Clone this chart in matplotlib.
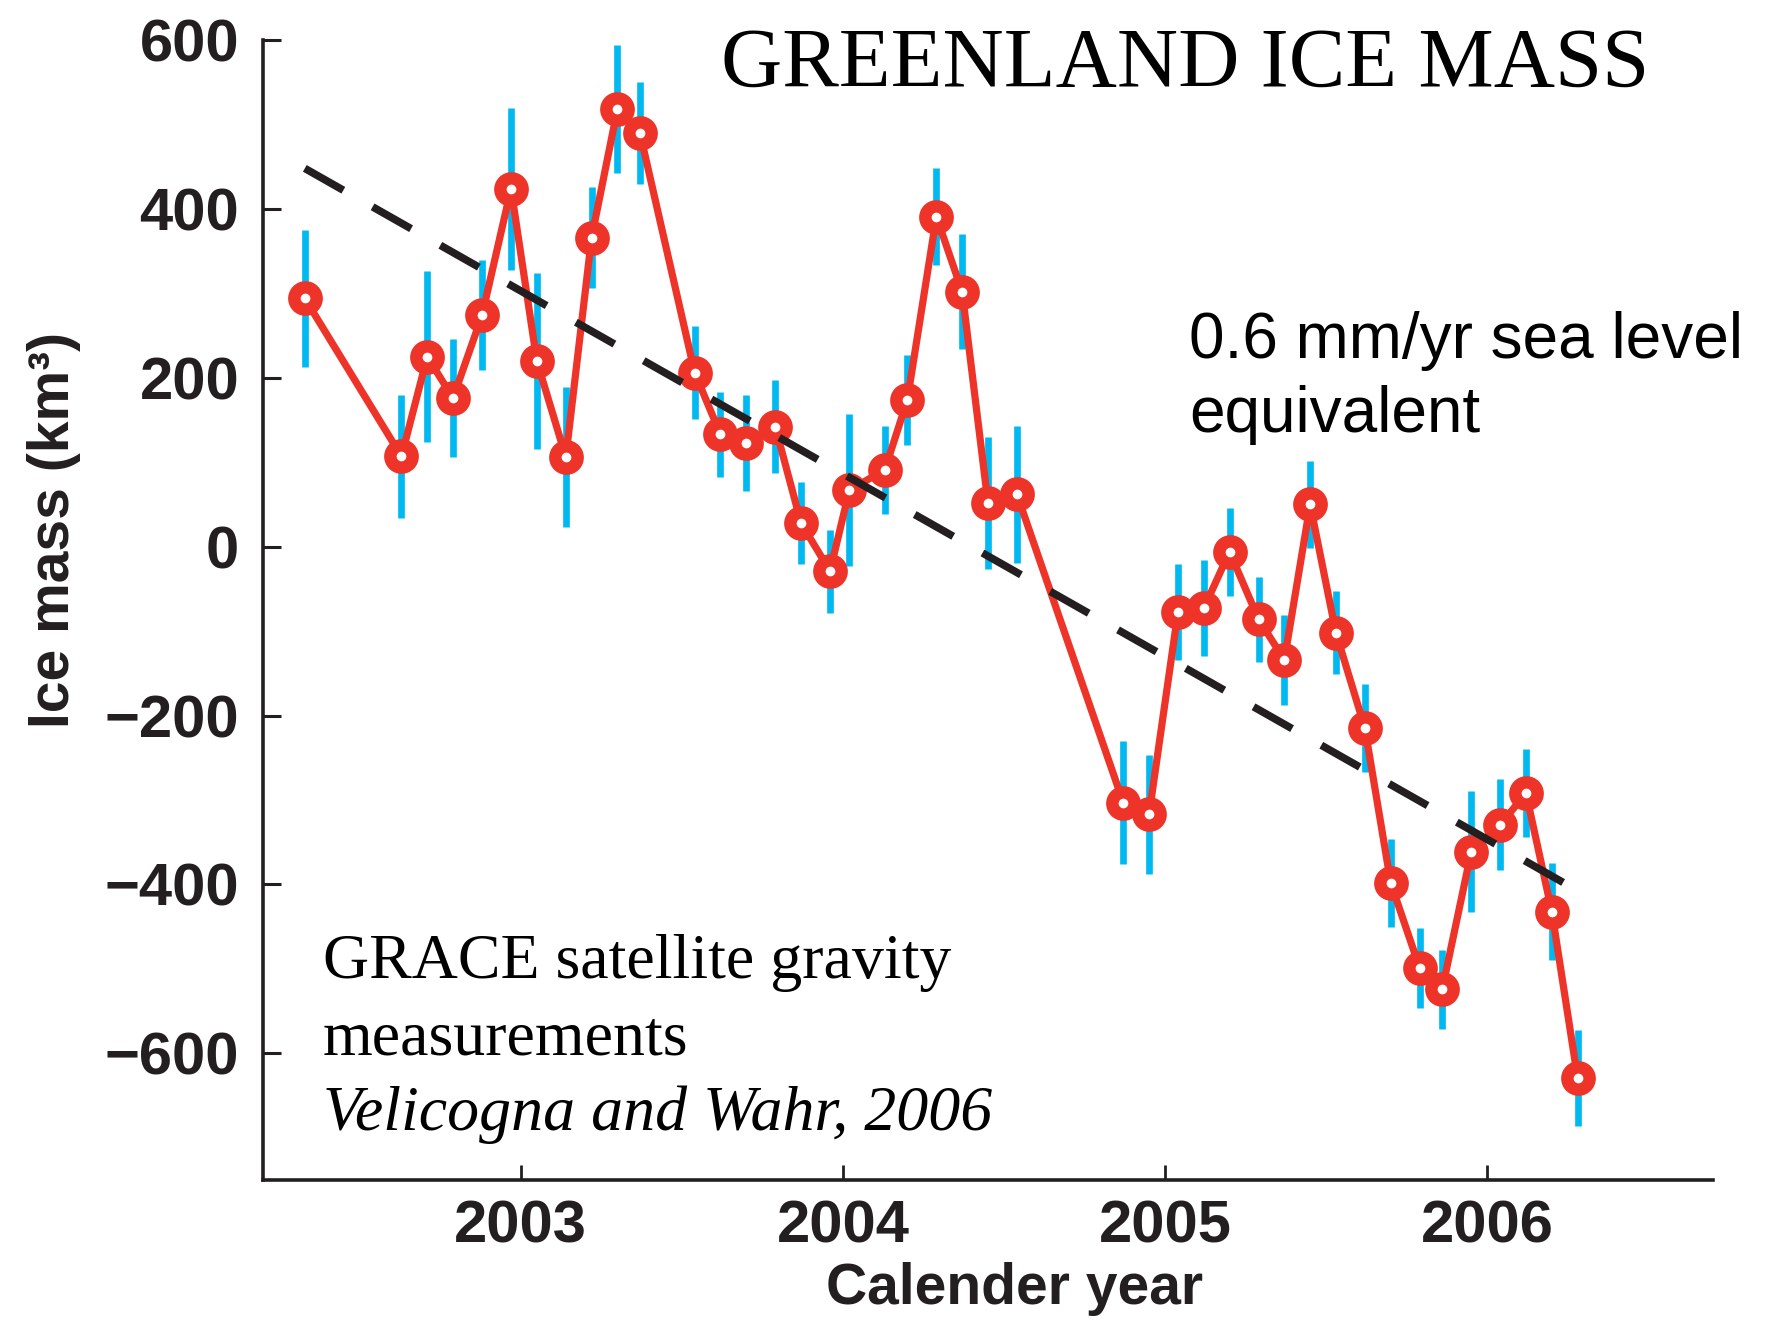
import matplotlib
matplotlib.use("Agg")
import matplotlib.pyplot as plt

# Monthly GRACE ice-mass estimates for Greenland (km^3) with 1-sigma uncertainty
decimal_year = [2002.33, 2002.63, 2002.71, 2002.79, 2002.88, 2002.97, 2003.05, 2003.14,
                2003.22, 2003.30, 2003.37,
                2003.54, 2003.62, 2003.70, 2003.79, 2003.87, 2003.96, 2004.02, 2004.13,
                2004.20, 2004.29, 2004.37, 2004.45, 2004.54,
                2004.87, 2004.95, 2005.04, 2005.12, 2005.20, 2005.29, 2005.37, 2005.45,
                2005.53, 2005.62,
                2005.70, 2005.79, 2005.86, 2005.95, 2006.04, 2006.12, 2006.20, 2006.28]
ice_mass = [294, 107, 225, 176, 274, 424, 220, 106, 366, 518, 490,
            206, 133, 123, 142, 28, -29, 67, 91, 174, 391, 302, 52, 62,
            -303, -317, -77, -73, -6, -86, -134, 50, -102, -215,
            -398, -499, -524, -361, -329, -292, -432, -629]
uncertainty = [81, 73, 101, 70, 65, 96, 104, 83, 60, 76, 60,
               55, 50, 57, 55, 49, 49, 90, 52, 53, 58, 68, 78, 81,
               73, 70, 57, 57, 52, 50, 53, 52, 49, 52,
               52, 47, 47, 72, 54, 52, 57, 57]

# Linear trend endpoints
trend_years = [2002.33, 2006.26]
trend_mass = [448, -403]

year_ticks = [2003, 2004, 2005, 2006]
year_labels = ["2003", "2004", "2005", "2006"]
mass_ticks = [-600, -400, -200, 0, 200, 400, 600]

RED = "#EE3428"
CYAN = "#00B9F0"
INK = "#231F20"

fig = plt.figure(figsize=(17.67, 13.21), dpi=100)
ax = fig.add_axes([0.1488, 0.1067, 0.9694 - 0.1488, 0.9697 - 0.1067])

ax.errorbar(decimal_year, ice_mass, yerr=uncertainty, fmt="none",
            ecolor=CYAN, elinewidth=4.8, capsize=0, zorder=1)
ax.plot(decimal_year, ice_mass, color=RED, lw=5.2, marker="o",
        markersize=16, markeredgewidth=9, markerfacecolor="white",
        markeredgecolor=RED, zorder=2)
trend, = ax.plot(trend_years, trend_mass, color=INK, lw=5.5, zorder=3,
                 dash_capstyle="butt")
trend.set_dashes((5.8, 4.4))

ax.set_xlim(2002.20, 2006.70)
ax.set_ylim(-750, 600)

for side in ("top", "right"):
    ax.spines[side].set_visible(False)
for side in ("left", "bottom"):
    ax.spines[side].set_linewidth(2.6)
    ax.spines[side].set_color(INK)

ax.set_xticks(year_ticks)
ax.set_xticklabels(year_labels)
ax.set_yticks(mass_ticks)

tick_font = dict(family="Liberation Sans", weight="bold", size=43)
for lab in ax.get_xticklabels() + ax.get_yticklabels():
    lab.set_fontproperties(matplotlib.font_manager.FontProperties(**tick_font))
    lab.set_color(INK)

ax.tick_params(axis="y", direction="in", length=13, width=2.2, pad=17, colors=INK)
ax.tick_params(axis="x", direction="in", length=11, width=2.0, pad=14, colors=INK)

ax.set_xlabel("Calender year", fontfamily="Liberation Sans", fontweight="bold",
              fontsize=41, color=INK)
ax.set_ylabel("Ice mass (km³)", fontfamily="Liberation Sans", fontweight="bold",
              fontsize=41, color=INK)
ax.xaxis.set_label_coords(0.518, -0.072)
ax.yaxis.set_label_coords(-0.1255, 0.57)

fig.text(0.408, 0.934, "GREENLAND ICE MASS", fontfamily="Liberation Serif",
         fontsize=61, color="black", va="baseline", ha="left")

fig.text(0.673, 0.729, "0.6 mm/yr sea level", fontfamily="Liberation Sans",
         fontsize=46, color="black", va="baseline", ha="left")
fig.text(0.673, 0.673, "equivalent", fontfamily="Liberation Sans",
         fontsize=46, color="black", va="baseline", ha="left")

fig.text(0.1828, 0.2597, "GRACE satellite gravity", fontfamily="Liberation Serif",
         fontsize=46, color="black", va="baseline", ha="left")
fig.text(0.1828, 0.2018, "measurements", fontfamily="Liberation Serif",
         fontsize=46, color="black", va="baseline", ha="left")
fig.text(0.1828, 0.1445, "Velicogna and Wahr, 2006", fontfamily="Liberation Serif",
         fontstyle="italic", fontsize=46, color="black", va="baseline", ha="left")

fig.savefig("out.png", dpi=100)
